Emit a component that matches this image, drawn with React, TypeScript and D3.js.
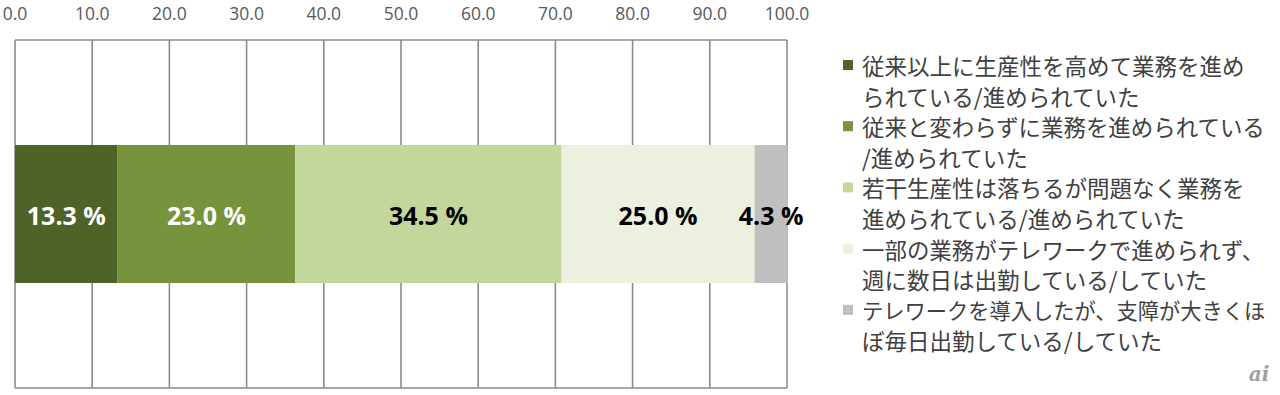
import React from "react";
import * as d3 from "d3";

const categories = ["回答"];
const seriesNames = [
  "従来以上に生産性を高めて業務を進められている/進められていた",
  "従来と変わらずに業務を進められている/進められていた",
  "若干生産性は落ちるが問題なく業務を進められている/進められていた",
  "一部の業務がテレワークで進められず、週に数日は出勤している/していた",
  "テレワークを導入したが、支障が大きくほぼ毎日出勤している/していた",
];
const legendLines = [
  ["従来以上に生産性を高めて業務を進め", "られている/進められていた"],
  ["従来と変わらずに業務を進められている", "/進められていた"],
  ["若干生産性は落ちるが問題なく業務を", "進められている/進められていた"],
  ["一部の業務がテレワークで進められず、", "週に数日は出勤している/していた"],
  ["テレワークを導入したが、支障が大きくほ", "ぼ毎日出勤している/していた"],
];
const values = [13.3, 23.0, 34.5, 25.0, 4.3];
const tickValues = [0, 10, 20, 30, 40, 50, 60, 70, 80, 90, 100];
const colors = ["#4F6228", "#77933C", "#C3D69B", "#EBF1DE", "#BFBFBF"];
const labelColors = ["#FFFFFF", "#FFFFFF", "#000000", "#000000", "#000000"];

export default function App() {
  const W = 1280, H = 395;
  const left = 15, right = 787, top = 40, bottom = 388;
  const x = d3.scaleLinear().domain([0, 100]).range([left, right]);
  const y = d3.scaleBand().domain(categories).range([top, bottom]).paddingInner(0.432).paddingOuter(0.432);
  const cum: number[] = [];
  values.reduce((a, v) => { cum.push(a); return a + v; }, 0);
  const gridColor = "#8C8C8C";
  const lineH = 30.6;
  const legendTop = 65;
  const fs = 22.5;
  const maxW = 404;
  const estW = (s: string, f: number) => Array.from(s).reduce((a, ch) => a + (ch.charCodeAt(0) > 255 ? 1 : 0.4), 0) * f;
  return (
    <svg width={W} height={H} style={{ position: "absolute", left: 0, top: 0, background: "#fff" }}>
      <rect x={0} y={0} width={W} height={H} fill="#fff" />
      {tickValues.map((t) => (
        <line key={"g" + t} x1={x(t)} x2={x(t)} y1={top} y2={bottom} stroke={gridColor} strokeWidth={1.6} />
      ))}
      <line x1={left} x2={right} y1={top} y2={top} stroke={gridColor} strokeWidth={1.6} />
      <line x1={left} x2={right} y1={bottom} y2={bottom} stroke={gridColor} strokeWidth={1.6} />
      {tickValues.map((t) => (
        <text key={"t" + t} x={x(t)} y={15} textAnchor="middle" dominantBaseline="middle"
          fontFamily="'Open Sans', 'Liberation Sans', sans-serif" fontSize={17.5} fill="#595959">
          {t.toFixed(1)}
        </text>
      ))}
      {categories.map((c) => (
        <g key={c}>
          {values.map((v, i) => (
            <rect key={i} x={x(cum[i])} y={y(c)!} width={x(cum[i] + v) - x(cum[i])} height={y.bandwidth()} fill={colors[i]} />
          ))}
          {values.map((v, i) => (
            <text key={"l" + i} x={(x(cum[i]) + x(cum[i] + v)) / 2} y={y(c)! + y.bandwidth() / 2 + 1}
              textAnchor="middle" dominantBaseline="central" fontFamily="'Open Sans', 'Noto Sans', sans-serif"
              fontWeight="bold" fontSize={25} fill={labelColors[i]}>
              {v.toFixed(1) + " %"}
            </text>
          ))}
        </g>
      ))}
      {seriesNames.map((s, i) => (
        <g key={s}>
          <rect x={843} y={legendTop + i * 2 * lineH - 5} width={10} height={10} fill={colors[i]} />
          {legendLines[i].map((ln, j) => {
            const w = estW(ln, fs);
            const f = w > maxW ? (fs * maxW) / w : fs;
            return (
              <text key={j} x={862} y={legendTop + (i * 2 + j) * lineH} dominantBaseline="central"
                fontFamily="'Noto Sans CJK JP', sans-serif" fontSize={f} fill="#404040">
                {ln}
              </text>
            );
          })}
        </g>
      ))}
      <text x={1259} y={381} textAnchor="middle" fontFamily="'DejaVu Serif', serif" fontStyle="italic"
        fontWeight="bold" fontSize={20} fill="#a0a0a0">ai</text>
    </svg>
  );
}
